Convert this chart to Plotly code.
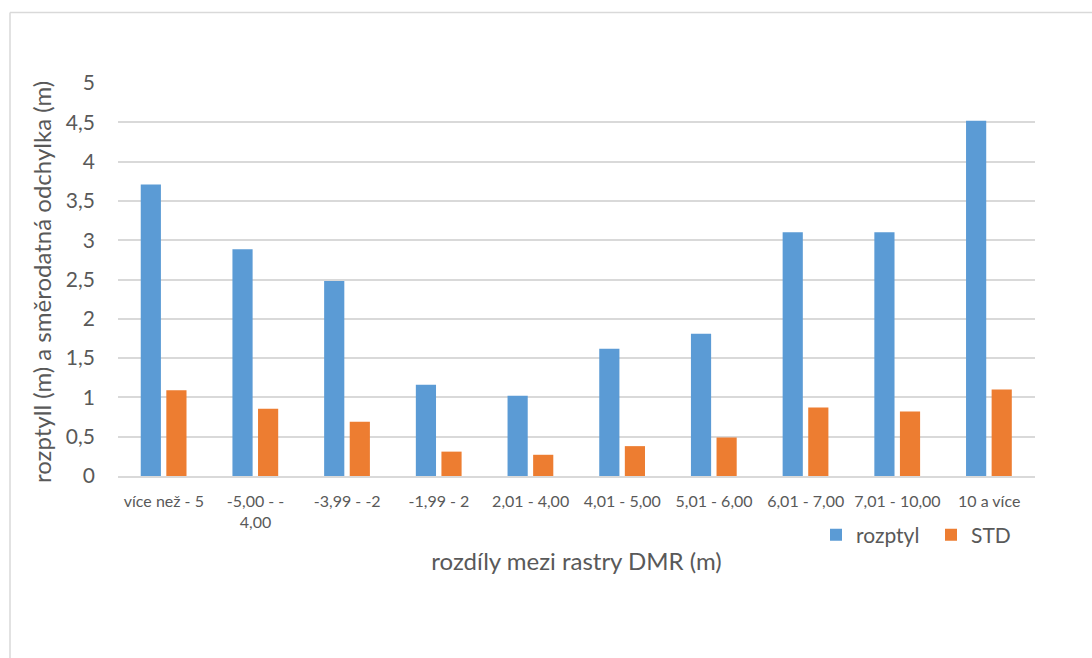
import plotly.graph_objects as go

# Intervaly rozdílů mezi rastry DMR (m)
categories = ["více než - 5", "-5,00 - -<br>4,00", "-3,99 - -2", "-1,99 - 2", "2,01 - 4,00",
              "4,01 - 5,00", "5,01 - 6,00", "6,01 - 7,00", "7,01 - 10,00", "10 a více"]
rozptyl = [3.71, 2.885, 2.48, 1.16, 1.02, 1.62, 1.81, 3.10, 3.10, 4.52]
std = [1.09, 0.855, 0.69, 0.31, 0.27, 0.38, 0.49, 0.87, 0.82, 1.10]
y_ticks = [0, 0.5, 1, 1.5, 2, 2.5, 3, 3.5, 4, 4.5, 5]
y_title = "rozptyll (m) a směrodatná odchylka (m)"
x_title = "rozdíly mezi rastry DMR (m)"

FONT = "Lato"
GREY = "#595959"
W, H = 1092, 658
L, R, T, B = 118, 57, 83, 182

fig = go.Figure()
fig.add_trace(go.Bar(x=categories, y=rozptyl, name="rozptyl", marker_color="#5b9bd5",
                     marker_line_width=0, width=0.22, offset=-0.252))
fig.add_trace(go.Bar(x=categories, y=std, name="STD", marker_color="#ed7d31",
                     marker_line_width=0, width=0.22, offset=0.027))

pw = W - L - R
ph = H - T - B
def px_x(p):
    return (p - L) / pw
def px_y(p):
    return (H - B - p) / ph

# outer chart border (top and left edges)
fig.add_shape(type="line", xref="paper", yref="paper", x0=px_x(10), x1=px_x(W + 5),
              y0=px_y(12.5), y1=px_y(12.5), line=dict(color="#d9d9d9", width=1.5))
fig.add_shape(type="line", xref="paper", yref="paper", x0=px_x(10), x1=px_x(10),
              y0=px_y(12.5), y1=px_y(H + 5), line=dict(color="#d9d9d9", width=1.5))

# vertical axis title
fig.add_annotation(text=y_title, textangle=-90, xref="paper", yref="paper",
                   x=px_x(41), y=px_y(282), xanchor="center", yanchor="middle",
                   showarrow=False, font=dict(size=24, color=GREY, family=FONT))

fig.update_layout(
    width=W, height=H,
    margin=dict(l=L, r=R, t=T, b=B, autoexpand=False),
    paper_bgcolor="white", plot_bgcolor="white",
    barmode="overlay",
    separators=", ",
    font=dict(family=FONT, color=GREY),
    showlegend=True,
    legend=dict(orientation="h", x=px_x(816), y=px_y(535), xanchor="left", yanchor="middle",
                font=dict(size=21, color=GREY), itemwidth=30, traceorder="normal",
                entrywidth=70, entrywidthmode="pixels",
                bgcolor="rgba(0,0,0,0)"),
)
fig.update_xaxes(
    type="category", showgrid=False, showline=True, linecolor="#d9d9d9", linewidth=1.5,
    ticks="", tickfont=dict(size=16, color=GREY), tickangle=0, ticklabelstandoff=10,
    title=dict(text=x_title, font=dict(size=24, color=GREY), standoff=23),
    range=[-0.5, 9.5],
)
fig.update_yaxes(
    range=[0, 5], tickvals=y_ticks, showgrid=True, gridcolor="#d9d9d9", gridwidth=1.5,
    zeroline=False, showline=False, ticks="", tickfont=dict(size=21, color=GREY),
    ticklabelstandoff=22,
)

fig.write_html("out.html")
